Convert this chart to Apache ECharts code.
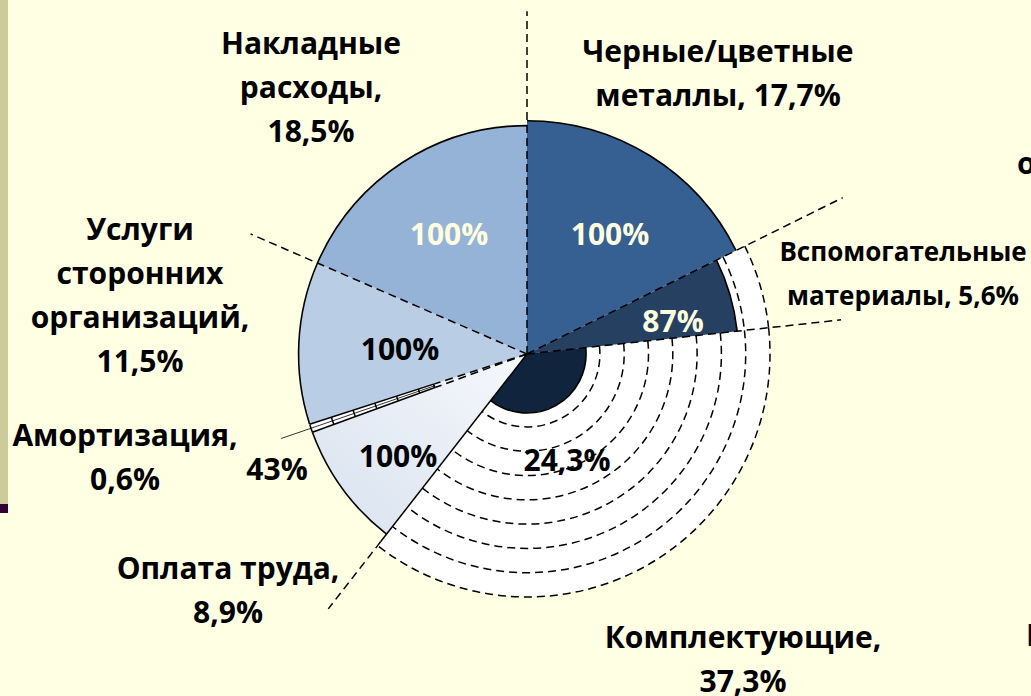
<!DOCTYPE html>
<html>
<head>
<meta charset="utf-8">
<script src="https://cdn.jsdelivr.net/npm/echarts@6/dist/echarts.min.js"></script>
<style>
html, body { margin: 0; padding: 0; background: #FFFFE3; }
#main { width: 1031px; height: 696px; }
</style>
</head>
<body>
<div id="main"></div>
<script>
// структура затрат (доля, %) и заполнение сектора (%)
var categories = ['Черные/цветные\nметаллы', 'Вспомогательные\nматериалы', 'Комплектующие',
    'Оплата труда', 'Амортизация', 'Услуги\nсторонних\nорганизаций', 'Накладные\nрасходы'];
var shares = [17.7, 5.6, 37.3, 8.9, 0.6, 11.5, 18.5];
var fills = [100, 87, 24.3, 100, 43, 100, 100];
var ringLevels = [10, 20, 30, 40, 50, 60, 70, 80, 90, 100];

// оформление
var CX = 527, CY = 354, R = 243;
var scale = [0.96, 1, 1, 0.94, 0.94, 0.94, 0.94];
var colors = ['#376092', '#254061', '#10243E',
    {type: 'linear', x: 1, y: 0, x2: 0, y2: 1, colorStops: [{offset: 0, color: '#F6F8FC'}, {offset: 1, color: '#D8E2EF'}]},
    '#EEF2F8', '#B9CDE5', '#95B3D7'];
var labelSep = ['\u0020', '\u0020', '\n', '\n', '\n', '\n', '\n'];
var labelPos = [[718, 72], [903, 273], [743, 658], [228, 589], [125, 456], [140, 294], [311, 86]];
var labelSize = [30, 26, 30, 30, 30, 30, 30];
var fillPos = [[610, 233], [673, 320], [567, 459], [398, 455], [277, 468], [400, 348], [449, 233]];
var fillTextColor = ['#FFFFE0', '#FFFFE0', '#000', '#000', '#000', '#000', '#FFFFE0'];
var radials = [
    {k: 0, t: 0, r0: 0, r1: 141, dash: true},
    {k: 1, t: 0, r0: 0, r1: 145, dash: true},
    {k: 2, t: 0, r0: 0, r1: 130, dash: true},
    {k: 3, t: 0, r0: 0, r1: 98, dash: false},
    {k: 3, t: 0, r0: 98, r1: 133, dash: true},
    {k: 4, t: 0, r0: 0, r1: 40, dash: true},
    {k: 4, t: 0, r0: 40, r1: 94, dash: false},
    {k: 5, t: 0, r0: 0, r1: 40, dash: true},
    {k: 5, t: 0, r0: 40, r1: 94, dash: false},
    {k: 4, t: 0.5, r0: 40, r1: 107, dash: false, w: 0.8},
    {k: 6, t: 0, r0: 0, r1: 124, dash: true}
];
var FONT = '"Open Sans", "Noto Sans", sans-serif';

var total = 0, cum = [0];
for (var i = 0; i < shares.length; i++) {
    total += shares[i];
    cum.push(total);
}
function pct(v) {
    return String(v).replace('.', ',') + '%';
}

function sliceData(idx, style) {
    return shares.map(function (v, j) {
        return {
            value: v,
            name: categories[j],
            itemStyle: j === idx ? style : {color: 'rgba(0,0,0,0)', borderWidth: 0}
        };
    });
}
function pieLayer(idx, radius, style, z) {
    return {
        type: 'pie',
        center: [CX, CY],
        radius: [0, radius],
        startAngle: 90,
        clockwise: true,
        silent: true,
        animation: false,
        z: z,
        label: {show: false},
        labelLine: {show: false},
        emphasis: {disabled: true},
        data: sliceData(idx, style)
    };
}

function arcEl(params, api, level, i, style) {
    var cs = params.coordSys;
    var p0 = api.coord([level, cum[i]]);
    var p1 = api.coord([level, cum[i + 1]]);
    return {
        type: 'arc',
        shape: {
            cx: cs.cx, cy: cs.cy,
            r: Math.sqrt(Math.pow(p0[0] - cs.cx, 2) + Math.pow(p0[1] - cs.cy, 2)),
            startAngle: Math.atan2(p0[1] - cs.cy, p0[0] - cs.cx),
            endAngle: Math.atan2(p1[1] - cs.cy, p1[0] - cs.cx),
            clockwise: true
        },
        style: style
    };
}

var series = [];
// белый фон неполных секторов
for (var i = 0; i < shares.length; i++) {
    if (fills[i] < 100) {
        series.push(pieLayer(i, R * scale[i], {color: '#FFFFFF'}, 1));
    }
}
// пунктирные кольца
var ringData = [];
for (var i = 0; i < shares.length; i++) {
    if (fills[i] < 100) {
        ringLevels.forEach(function (lv) { ringData.push([lv, i]); });
    }
}
series.push({
    type: 'custom',
    coordinateSystem: 'polar',
    silent: true,
    animation: false,
    z: 2,
    data: ringData,
    renderItem: function (params, api) {
        var i = api.value(1);
        return arcEl(params, api, api.value(0) * scale[i], i,
            {stroke: '#000', fill: 'none', lineWidth: 1.5, lineDash: [8, 5]});
    }
});
// заливка
for (var i = 0; i < shares.length; i++) {
    series.push(pieLayer(i, R * scale[i] * fills[i] / 100, {color: colors[i]}, 3));
}
// контур заливки
series.push({
    type: 'custom',
    coordinateSystem: 'polar',
    silent: true,
    animation: false,
    z: 4,
    data: fills.map(function (f, i) { return [f, i]; }),
    renderItem: function (params, api) {
        var i = api.value(1);
        return arcEl(params, api, api.value(0) * scale[i], i,
            {stroke: '#000', fill: 'none', lineWidth: 1.6});
    }
});
// радиальные линии
series.push({
    type: 'custom',
    coordinateSystem: 'polar',
    silent: true,
    animation: false,
    z: 5,
    data: radials.map(function (r, n) { return [n, 0]; }),
    renderItem: function (params, api) {
        var d = radials[api.value(0)];
        var a = cum[d.k] + d.t * shares[d.k];
        var p0 = api.coord([d.r0, a]);
        var p1 = api.coord([d.r1, a]);
        return {
            type: 'line',
            shape: {x1: p0[0], y1: p0[1], x2: p1[0], y2: p1[1]},
            style: {stroke: '#000', lineWidth: d.w || 1.5, lineDash: d.dash ? [8, 5] : null}
        };
    }
});

var graphic = [
    {type: 'rect', shape: {x: 0, y: 0, width: 8, height: 504}, style: {fill: '#CDCB9B'}},
    {type: 'rect', shape: {x: 0, y: 504, width: 8, height: 9}, style: {fill: '#330033'}},
    {type: 'text', x: 1017, y: 162, style: {text: 'о', fill: '#000', font: 'bold 30px ' + FONT, align: 'left', verticalAlign: 'middle'}},
    {type: 'text', x: 1026, y: 634, style: {text: 'К', fill: '#000', font: 'bold 30px ' + FONT, align: 'left', verticalAlign: 'middle'}}
];
for (var i = 0; i < shares.length; i++) {
    graphic.push({
        type: 'text', x: labelPos[i][0], y: labelPos[i][1], z: 10,
        style: {
            text: categories[i] + ',' + labelSep[i] + pct(shares[i]),
            fill: '#000',
            font: 'bold ' + labelSize[i] + 'px ' + FONT,
            lineHeight: 44,
            align: 'center', verticalAlign: 'middle'
        }
    });
    graphic.push({
        type: 'text', x: fillPos[i][0], y: fillPos[i][1], z: 10,
        style: {
            text: pct(fills[i]),
            fill: fillTextColor[i],
            font: 'bold 30px ' + FONT,
            align: 'center', verticalAlign: 'middle'
        }
    });
}

var chart = echarts.init(document.getElementById('main'), null, {renderer: 'svg'});
chart.setOption({
    backgroundColor: '#FFFFE3',
    animation: false,
    polar: {center: [CX, CY], radius: R},
    angleAxis: {type: 'value', min: 0, max: total, startAngle: 90, clockwise: true, show: false},
    radiusAxis: {type: 'value', min: 0, max: 100, show: false},
    series: series,
    graphic: graphic
});
</script>
</body>
</html>
